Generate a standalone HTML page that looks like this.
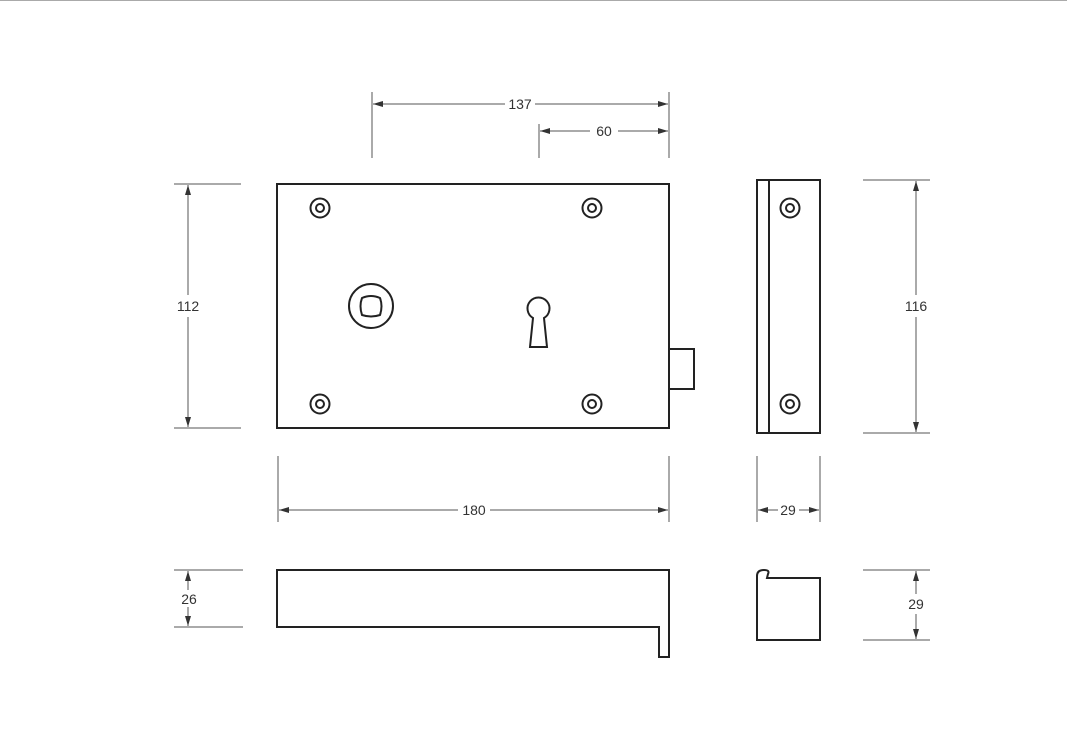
<!DOCTYPE html>
<html><head><style>
html,body{margin:0;padding:0;background:#fff;}
svg{display:block;}
text{font-family:"Liberation Sans",sans-serif;font-size:14px;fill:#333;}
</style></head><body>
<svg width="1067" height="753" viewBox="0 0 1067 753" xmlns="http://www.w3.org/2000/svg">
<defs>
<marker id="a" viewBox="0 0 10 6" refX="10" refY="3" markerWidth="10" markerHeight="6" orient="auto-start-reverse" markerUnits="userSpaceOnUse"><path d="M0,0 L10,3 L0,6 Z" fill="#333"/></marker>
</defs>
<rect width="1067" height="753" fill="#fff"/>
<line x1="0" y1="0.5" x2="1067" y2="0.5" stroke="#aaa" stroke-width="1"/>

<g stroke="#555" stroke-width="1" fill="none">
<line x1="372" y1="92" x2="372" y2="158"/>
<line x1="669" y1="92" x2="669" y2="158"/>
<line x1="539" y1="124" x2="539" y2="158"/>
<line x1="373" y1="104" x2="505" y2="104" marker-start="url(#a)"/>
<line x1="535" y1="104" x2="668" y2="104" marker-end="url(#a)"/>
<line x1="540" y1="131" x2="590" y2="131" marker-start="url(#a)"/>
<line x1="618" y1="131" x2="668" y2="131" marker-end="url(#a)"/>
<line x1="174" y1="184" x2="241" y2="184"/>
<line x1="174" y1="428" x2="241" y2="428"/>
<line x1="188" y1="185" x2="188" y2="295" marker-start="url(#a)"/>
<line x1="188" y1="317" x2="188" y2="427" marker-end="url(#a)"/>
<line x1="863" y1="180" x2="930" y2="180"/>
<line x1="863" y1="433" x2="930" y2="433"/>
<line x1="916" y1="181" x2="916" y2="295" marker-start="url(#a)"/>
<line x1="916" y1="317" x2="916" y2="432" marker-end="url(#a)"/>
<line x1="278" y1="456" x2="278" y2="522"/>
<line x1="669" y1="456" x2="669" y2="522"/>
<line x1="279" y1="510" x2="458" y2="510" marker-start="url(#a)"/>
<line x1="490" y1="510" x2="668" y2="510" marker-end="url(#a)"/>
<line x1="757" y1="456" x2="757" y2="522"/>
<line x1="820" y1="456" x2="820" y2="522"/>
<line x1="758" y1="510" x2="778" y2="510" marker-start="url(#a)"/>
<line x1="799" y1="510" x2="819" y2="510" marker-end="url(#a)"/>
<line x1="174" y1="570" x2="243" y2="570"/>
<line x1="174" y1="627" x2="243" y2="627"/>
<line x1="188" y1="571" x2="188" y2="590" marker-start="url(#a)"/>
<line x1="188" y1="607" x2="188" y2="626" marker-end="url(#a)"/>
<line x1="863" y1="570" x2="930" y2="570"/>
<line x1="863" y1="640" x2="930" y2="640"/>
<line x1="916" y1="571" x2="916" y2="594" marker-start="url(#a)"/>
<line x1="916" y1="614" x2="916" y2="639" marker-end="url(#a)"/>
</g>

<g text-anchor="middle">
<text x="520" y="109">137</text>
<text x="604" y="136">60</text>
<text x="188" y="311">112</text>
<text x="916" y="311">116</text>
<text x="474" y="515">180</text>
<text x="788" y="515">29</text>
<text x="189" y="604">26</text>
<text x="916" y="609">29</text>
</g>

<g stroke="#222" stroke-width="2" fill="none">
<rect x="277" y="184" width="392" height="244"/>
<rect x="669" y="349" width="25" height="40"/>
<circle cx="320" cy="208" r="9.5"/><circle cx="320" cy="208" r="4"/>
<circle cx="592" cy="208" r="9.5"/><circle cx="592" cy="208" r="4"/>
<circle cx="320" cy="404" r="9.5"/><circle cx="320" cy="404" r="4"/>
<circle cx="592" cy="404" r="9.5"/><circle cx="592" cy="404" r="4"/>
<circle cx="371" cy="306" r="22"/>
<path d="M362,298 Q371,294 380,298 Q383,306 380,315 Q371,318 362,315 Q359,306 362,298 Z"/>
<path d="M533,318 A11,11 0 1 1 544,318 L547,347 L530,347 Z"/>
<rect x="757" y="180" width="63" height="253"/>
<line x1="769" y1="180" x2="769" y2="433"/>
<circle cx="790" cy="208" r="9.5"/><circle cx="790" cy="208" r="4"/>
<circle cx="790" cy="404" r="9.5"/><circle cx="790" cy="404" r="4"/>
<path d="M277,570 H669 V657 H659 V627 H277 Z"/>
<path d="M757,640 V576 Q757,570 764,570 Q770,570 768,574 L767,578 H820 V640 Z"/>
</g>
</svg>
</body></html>
